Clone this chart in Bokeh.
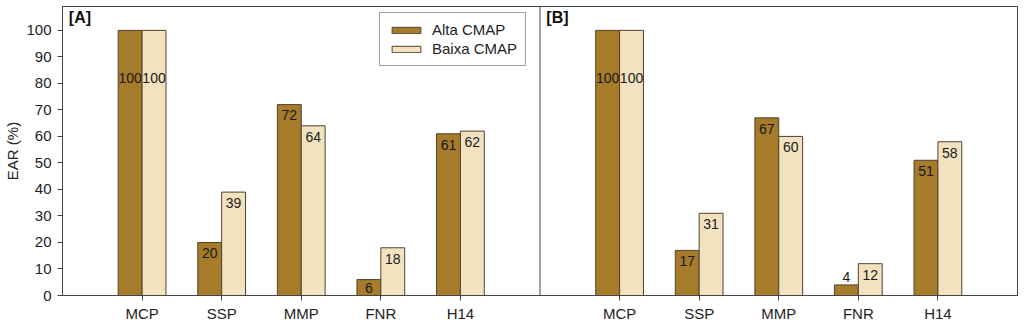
from bokeh.plotting import figure
from bokeh.models import ColumnDataSource, FixedTicker, Span, Label, Legend, LegendItem, Range1d
from bokeh.embed import file_html
from bokeh.resources import INLINE

categories = ["MCP", "SSP", "MMP", "FNR", "H14"]
panels = ["[A]", "[B]"]
alta_A = [100, 20, 72, 6, 61]
baixa_A = [100, 39, 64, 18, 62]
alta_B = [100, 17, 67, 4, 51]
baixa_B = [100, 31, 60, 12, 58]
series_names = ["Alta CMAP", "Baixa CMAP"]
y_ticks = [0, 10, 20, 30, 40, 50, 60, 70, 80, 90, 100]

DARK = "#A67C2A"
LIGHT = "#F2E2BF"
EDGE = "#4f4330"
FONT = "Liberation Sans"

n = len(categories)
panel_span = n + 1
bw = 0.3

p = figure(width=1024, height=324, output_backend="svg", toolbar_location=None,
           x_range=Range1d(0, 2 * panel_span), y_range=Range1d(0, 109),
           min_border_left=62, min_border_right=7, min_border_top=6, min_border_bottom=29)
p.xgrid.visible = False
p.ygrid.visible = False
p.outline_line_color = "#444444"
p.outline_line_width = 1
p.background_fill_color = "white"
p.border_fill_color = "white"

def centers(panel_idx):
    return [panel_idx * panel_span + i + 1 for i in range(n)]

def label_pos(v):
    if v >= 95:
        return 82, "middle"
    if v < 5:
        return v + 1, "bottom"
    if v < 10:
        return v / 2, "middle"
    return v - 2.2, "top"

renderers = {}
for pi, (alta, baixa) in enumerate([(alta_A, baixa_A), (alta_B, baixa_B)]):
    c = centers(pi)
    for si, (vals, col, off) in enumerate([(alta, DARK, -bw / 2), (baixa, LIGHT, bw / 2)]):
        xs = [x + off for x in c]
        src = ColumnDataSource(dict(x=xs, top=vals))
        r = p.vbar(x="x", top="top", width=bw, bottom=0, source=src,
                   fill_color=col, line_color=EDGE, line_width=1)
        if pi == 0:
            renderers[si] = r
        groups = {}
        for x, v in zip(xs, vals):
            y, base = label_pos(v)
            groups.setdefault(base, {"x": [], "y": [], "t": []})
            groups[base]["x"].append(x)
            groups[base]["y"].append(y)
            groups[base]["t"].append(str(v))
        for base, d in groups.items():
            p.text(x=d["x"], y=d["y"], text=d["t"], text_align="center", text_baseline=base,
                   text_font_size="14px", text_color="#1a1a1a", text_font={"value": FONT})

p.add_layout(Span(location=panel_span, dimension="height", line_color="#444444", line_width=1))

for pi, t in enumerate(panels):
    p.add_layout(Label(x=pi * panel_span + 0.08, y=108, text=t, text_baseline="top",
                       text_font_size="16px", text_font_style="bold", text_font=FONT,
                       text_color="#111111"))

tick_pos = centers(0) + centers(1)
p.xaxis.ticker = FixedTicker(ticks=tick_pos)
p.xaxis.major_label_overrides = {x: categories[i % n] for i, x in enumerate(tick_pos)}
p.xaxis.minor_tick_line_color = None
p.xaxis.major_tick_out = 5
p.xaxis.major_tick_in = 0
p.xaxis.major_label_standoff = 4
p.xaxis.major_label_text_font_size = "15px"
p.xaxis.major_label_text_font = FONT
p.xaxis.major_label_text_color = "#222222"
p.xaxis.axis_line_color = "#444444"
p.xaxis.major_tick_line_color = "#444444"

p.yaxis.ticker = FixedTicker(ticks=y_ticks)
p.yaxis.minor_tick_line_color = None
p.yaxis.major_tick_out = 5
p.yaxis.major_tick_in = 0
p.yaxis.major_label_standoff = 6
p.yaxis.major_label_text_font_size = "15px"
p.yaxis.major_label_text_font = FONT
p.yaxis.major_label_text_color = "#222222"
p.yaxis.axis_label = "EAR (%)"
p.yaxis.axis_label_text_font_size = "15px"
p.yaxis.axis_label_text_font = FONT
p.yaxis.axis_label_text_font_style = "normal"
p.yaxis.axis_label_text_color = "#222222"
p.yaxis.axis_label_standoff = 2
p.yaxis.axis_line_color = "#444444"
p.yaxis.major_tick_line_color = "#444444"

legend = Legend(items=[LegendItem(label=series_names[0], renderers=[renderers[0]]),
                       LegendItem(label=series_names[1], renderers=[renderers[1]])],
                location=(317, 229))
legend.glyph_width = 36
legend.glyph_height = 8
legend.label_height = 17
legend.label_standoff = 8
legend.spacing = 2
legend.padding = 8
legend.margin = 0
legend.label_text_font_size = "15px"
legend.label_text_font = FONT
legend.label_text_color = "#222222"
legend.border_line_color = "#444444"
legend.border_line_width = 1
legend.background_fill_alpha = 1
p.add_layout(legend)

open("out.html", "w").write(file_html(p, INLINE))
